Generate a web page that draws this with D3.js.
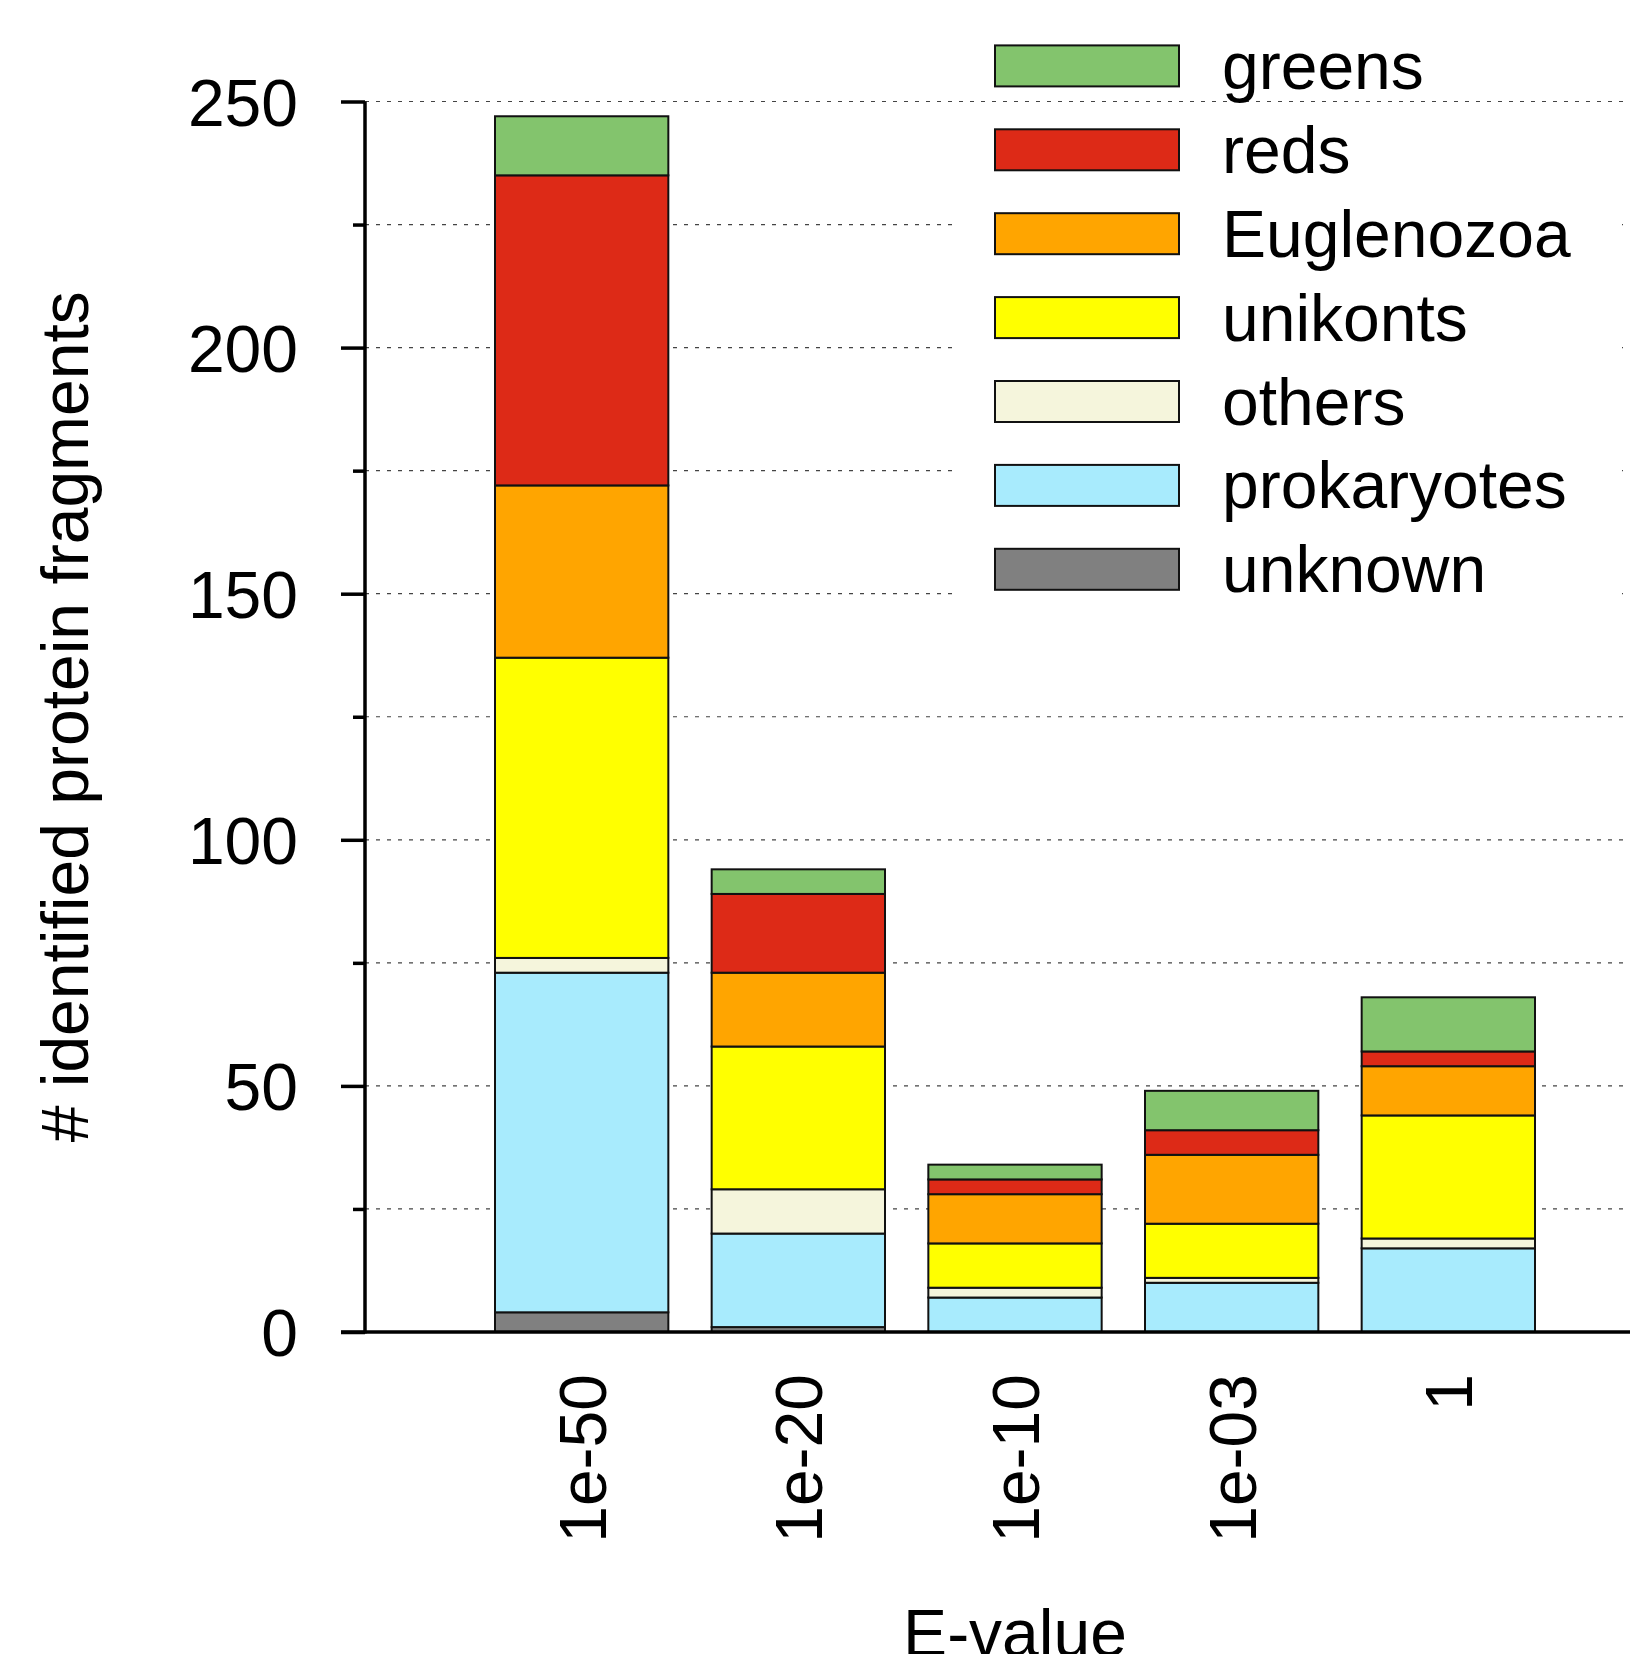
<!DOCTYPE html>
<meta charset="utf-8">
<style>
  body { margin: 0; background: #fff; }
  text { font-family: "Liberation Sans", Arial, sans-serif; fill: #000; }
</style>
<svg width="1630" height="1654"></svg>
<script src="https://d3js.org/d3.v7.min.js"></script>
<script>

var categories = ["1e-50", "1e-20", "1e-10", "1e-03", "1"];

// stacked bottom to top
var unknown     = [4, 1, 0, 0, 0],
    prokaryotes = [69, 19, 7, 10, 17],
    others      = [3, 9, 2, 1, 2],
    unikonts    = [61, 29, 9, 11, 25],
    euglenozoa  = [35, 15, 10, 14, 10],
    reds        = [63, 16, 3, 5, 3],
    greens      = [12, 5, 3, 8, 11];

var seriesNames = ["unknown", "prokaryotes", "others", "unikonts", "Euglenozoa", "reds", "greens"];
var seriesColors = ["#808080", "#a8ebfd", "#f5f5dc", "#ffff00", "#ffa500", "#dd2a17", "#83c46d"];
var yTicks = [0, 50, 100, 150, 200, 250];
var yMinorTicks = [25, 75, 125, 175, 225];

var rows = categories.map(function(c, i) {
  return {cat: c, unknown: unknown[i], prokaryotes: prokaryotes[i], others: others[i],
          unikonts: unikonts[i], Euglenozoa: euglenozoa[i], reds: reds[i], greens: greens[i]};
});

var svg = d3.select("svg"),
    width = +svg.attr("width");

var plotLeft = 365, plotRight = 1665, plotTop = 101.5, plotBottom = 1332;
var step = (plotRight - plotLeft) / 6;

var x = d3.scaleBand()
    .domain(categories)
    .range([plotLeft + step / 2, plotRight - step / 2])
    .paddingInner(0.2)
    .paddingOuter(0.1);

var y = d3.scaleLinear().domain([0, 250]).range([plotBottom, plotTop]);

var color = d3.scaleOrdinal().domain(seriesNames).range(seriesColors);

var stacked = d3.stack().keys(seriesNames)(rows);

// grid lines
svg.append("g")
  .selectAll("line")
  .data(yTicks.concat(yMinorTicks).filter(function(d) { return d > 0; }))
  .enter().append("line")
    .attr("x1", plotLeft).attr("x2", width)
    .attr("y1", y).attr("y2", y)
    .attr("stroke", "#444")
    .attr("stroke-width", 1.2)
    .attr("stroke-dasharray", "4,7");

// legend background hides the grid behind it
var legX = 995, legY = 45.4, legStep = 83.9;
svg.append("rect")
    .attr("x", 956).attr("y", 112)
    .attr("width", 666).attr("height", 510)
    .attr("fill", "#fff");

// bars
svg.append("g")
  .selectAll("g")
  .data(stacked)
  .enter().append("g")
    .attr("fill", function(d) { return color(d.key); })
  .selectAll("rect")
  .data(function(d) { return d.filter(function(p) { return p[1] > p[0]; }); })
  .enter().append("rect")
    .attr("x", function(d) { return x(d.data.cat); })
    .attr("width", x.bandwidth())
    .attr("y", function(d) { return y(d[1]); })
    .attr("height", function(d) { return y(d[0]) - y(d[1]); })
    .attr("stroke", "#111")
    .attr("stroke-width", 2);

// y axis
var yAxis = svg.append("g")
    .attr("transform", "translate(" + plotLeft + ",0)")
    .call(d3.axisLeft(y).tickValues(yTicks).tickSize(24).tickPadding(43));
yAxis.select(".domain").attr("stroke-width", 3.5).attr("d", "M0," + (plotBottom + 1.5) + "V" + y(250));
yAxis.selectAll(".tick line").attr("stroke-width", 3.5);
yAxis.selectAll(".tick text")
    .attr("font-size", 66)
    .attr("font-family", "Liberation Sans, Arial, sans-serif")
    .attr("dy", "0.36em");

var yMinor = svg.append("g")
    .attr("transform", "translate(" + plotLeft + ",0)")
    .call(d3.axisLeft(y).tickValues(yMinorTicks).tickSize(12).tickFormat(""));
yMinor.select(".domain").remove();
yMinor.selectAll(".tick line").attr("stroke-width", 3.5);

// x baseline
svg.append("line")
    .attr("x1", plotLeft - 24).attr("x2", width)
    .attr("y1", y(0)).attr("y2", y(0))
    .attr("stroke", "#000")
    .attr("stroke-width", 3.5);

// x tick labels (rotated)
svg.append("g")
  .selectAll("text")
  .data(categories)
  .enter().append("text")
    .attr("transform", function(d) {
      return "translate(" + (x(d) + x.bandwidth() / 2 + 24) + "," + 1374 + ")rotate(-90)";
    })
    .attr("text-anchor", "end")
    .attr("font-size", 66)
    .text(function(d) { return d; });

// axis titles
svg.append("text")
    .attr("x", (x(categories[0]) + x(categories[4]) + x.bandwidth()) / 2)
    .attr("y", 1656)
    .attr("text-anchor", "middle")
    .attr("font-size", 66)
    .text("E-value");

svg.append("text")
    .attr("transform", "translate(88," + (plotTop + plotBottom) / 2 + ")rotate(-90)")
    .attr("text-anchor", "middle")
    .attr("font-size", 66)
    .text("# identified protein fragments");

// legend
var legend = svg.append("g")
  .selectAll("g")
  .data(seriesNames.slice().reverse())
  .enter().append("g")
    .attr("transform", function(d, i) { return "translate(" + legX + "," + (legY + i * legStep) + ")"; });

legend.append("rect")
    .attr("width", 184)
    .attr("height", 41)
    .attr("fill", color)
    .attr("stroke", "#111")
    .attr("stroke-width", 2);

legend.append("text")
    .attr("x", 227)
    .attr("y", 20.5 + 23)
    .attr("font-size", 66)
    .text(function(d) { return d; });

</script>
